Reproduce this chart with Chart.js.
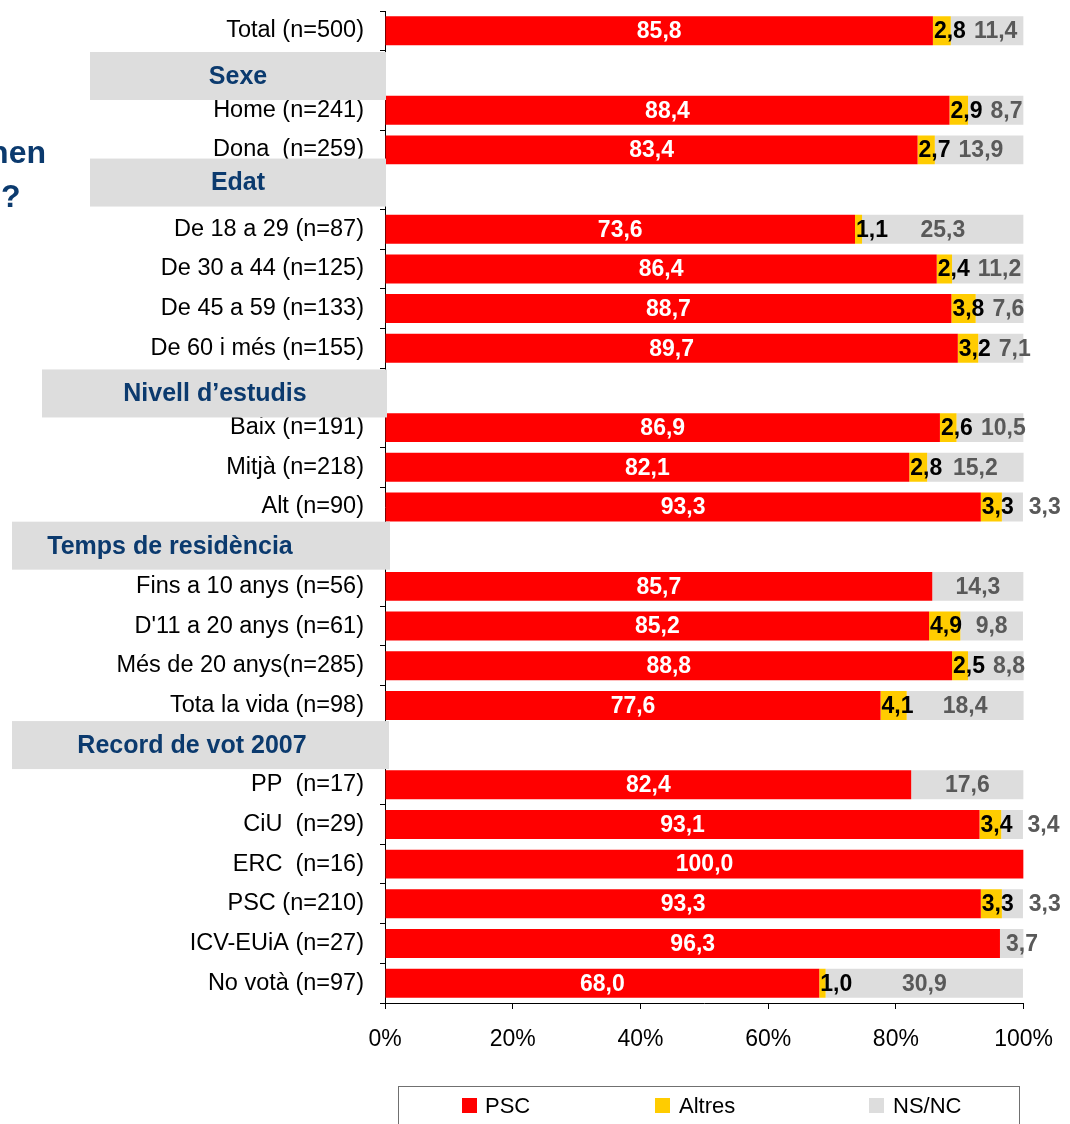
<!DOCTYPE html>
<html>
<head>
<meta charset="utf-8">
<script src="https://cdn.jsdelivr.net/npm/chart.js@4.4.1/dist/chart.umd.min.js"></script>
<style>
  html, body { margin: 0; padding: 0; background: #fff; }
  #wrap { position: relative; width: 1070px; height: 1124px; overflow: hidden; }
  canvas { display: block; }
</style>
</head>
<body>
<div id="wrap"><canvas id="c" width="1070" height="1124"></canvas></div>
<script>
// ---- DATA ----
const categories = [
  'Total (n=500)', '',
  'Home (n=241)', 'Dona  (n=259)', '',
  'De 18 a 29 (n=87)', 'De 30 a 44 (n=125)', 'De 45 a 59 (n=133)', 'De 60 i més (n=155)', '',
  'Baix (n=191)', 'Mitjà (n=218)', 'Alt (n=90)', '',
  'Fins a 10 anys (n=56)', "D'11 a 20 anys (n=61)", 'Més de 20 anys(n=285)', 'Tota la vida (n=98)', '',
  'PP  (n=17)', 'CiU  (n=29)', 'ERC  (n=16)', 'PSC (n=210)', 'ICV-EUiA (n=27)', 'No votà (n=97)'
];
const groupHeaders = ['Sexe', 'Edat', 'Nivell d’estudis', 'Temps de residència', 'Record de vot 2007'];
const seriesNames = ['PSC', 'Altres', 'NS/NC'];
const psc    = [85.8, null, 88.4, 83.4, null, 73.6, 86.4, 88.7, 89.7, null, 86.9, 82.1, 93.3, null, 85.7, 85.2, 88.8, 77.6, null, 82.4, 93.1, 100.0, 93.3, 96.3, 68.0];
const altres = [2.8, null, 2.9, 2.7, null, 1.1, 2.4, 3.8, 3.2, null, 2.6, 2.8, 3.3, null, null, 4.9, 2.5, 4.1, null, null, 3.4, null, 3.3, null, 1.0];
const nsnc   = [11.4, null, 8.7, 13.9, null, 25.3, 11.2, 7.6, 7.1, null, 10.5, 15.2, 3.3, null, 14.3, 9.8, 8.8, 18.4, null, 17.6, 3.4, null, 3.3, 3.7, 30.9];
const xTicks = [0, 20, 40, 60, 80, 100];

// ---- STYLE ----
const FONT = '"Liberation Sans", Arial, sans-serif';
const colors = ['#FF0000', '#FFCC00', '#DDDDDD'];
const labelColors = ['#FFFFFF', '#000000', '#595959'];
const headerBlue = '#0B3A6E';
const headerBoxes = [ // x0, x1, dy (vs slot centre), text centre x
  { x0: 90, x1: 386, dy: 5.5, tx: 238 },
  { x0: 90, x1: 386, dy: -7, tx: 238 },
  { x0: 42, x1: 387, dy: 5.5, tx: 215 },
  { x0: 12, x1: 390, dy: -1, tx: 170 },
  { x0: 12, x1: 389, dy: 0, tx: 192 }
];

const fmt = v => v.toFixed(1).replace('.', ',');

const labelsPlugin = {
  id: 'barLabels',
  afterDatasetsDraw(chart) {
    const ctx = chart.ctx;
    ctx.save();
    ctx.font = 'bold 23px ' + FONT;
    ctx.textBaseline = 'middle';
    ctx.textAlign = 'left';
    const n = categories.length;
    const metas = [0, 1, 2].map(i => chart.getDatasetMeta(i));
    for (let j = 0; j < n; j++) {
      let altresRight = null;
      for (let d = 0; d < 3; d++) {
        const v = chart.data.datasets[d].data[j];
        if (v === null || v === undefined) continue;
        const el = metas[d].data[j];
        const p = el.getProps(['x', 'y', 'base'], true);
        const x0 = Math.min(p.x, p.base), x1 = Math.min(Math.max(p.x, p.base), chart.chartArea.right);
        const segW = x1 - x0;
        const txt = fmt(v);
        const w = ctx.measureText(txt).width;
        const c = (x0 + x1) / 2;
        let left;
        if (d === 0) {
          left = c - w / 2;
        } else if (d === 1) {
          left = Math.max(x0 + 1, c - w / 2);
          altresRight = left + w;
        } else {
          left = c - w / 2;
          if (w > segW) {
            left = altresRight !== null ? altresRight + 15 : x0 + 6;
          } else if (altresRight !== null) {
            left = Math.max(left, altresRight + 8);
          }
        }
        ctx.fillStyle = labelColors[d];
        ctx.fillText(txt, left, p.y + 1);
      }
    }
    ctx.restore();
  },
  afterDraw(chart) {
    const ctx = chart.ctx;
    const ys = chart.scales.y;
    ctx.save();
    // header boxes
    let h = 0;
    categories.forEach((c, i) => {
      if (c !== '') return;
      const box = headerBoxes[h];
      const yc = ys.getPixelForValue(i) + box.dy;
      ctx.fillStyle = '#DDDDDD';
      ctx.fillRect(box.x0, yc - 24, box.x1 - box.x0, 48);
      ctx.fillStyle = headerBlue;
      ctx.font = 'bold 25px ' + FONT;
      ctx.textAlign = 'center';
      ctx.textBaseline = 'middle';
      ctx.fillText(groupHeaders[h], box.tx, yc + 1);
      h++;
    });
    // partially visible title text at left
    ctx.fillStyle = headerBlue;
    ctx.font = 'bold 32px ' + FONT;
    ctx.textBaseline = 'alphabetic';
    ctx.textAlign = 'right';
    ctx.fillText('hen', 46, 163);
    ctx.textAlign = 'left';
    ctx.fillText('?', 1, 207);
    // legend
    ctx.strokeStyle = '#707070';
    ctx.lineWidth = 1;
    ctx.strokeRect(398.5, 1086.5, 621, 60);
    const items = [{ sx: 462, tx: 485 }, { sx: 655, tx: 679 }, { sx: 869, tx: 893 }];
    ctx.font = '22px ' + FONT;
    ctx.textBaseline = 'middle';
    ctx.textAlign = 'left';
    items.forEach((it, i) => {
      ctx.fillStyle = colors[i];
      ctx.fillRect(it.sx, 1098, 15, 15);
      ctx.fillStyle = '#000';
      ctx.fillText(seriesNames[i], it.tx, 1107);
    });
    ctx.restore();
  }
};

new Chart(document.getElementById('c'), {
  type: 'bar',
  data: {
    labels: categories,
    datasets: [psc, altres, nsnc].map((arr, i) => ({
      label: seriesNames[i],
      data: arr,
      backgroundColor: colors[i],
      borderWidth: 0,
      categoryPercentage: 1,
      barPercentage: 0.73
    }))
  },
  options: {
    indexAxis: 'y',
    responsive: false,
    animation: false,
    layout: { padding: { top: 11, right: 46, left: 0, bottom: 0 } },
    plugins: { legend: { display: false }, tooltip: { enabled: false } },
    scales: {
      x: {
        stacked: true,
        min: 0, max: 100,
        afterBuildTicks: s => { s.ticks = xTicks.map(v => ({ value: v })); },
        afterFit: s => { s.height = 121; },
        grid: { drawOnChartArea: false, tickLength: 6, color: '#000' },
        border: { color: '#000', width: 1 },
        ticks: { color: '#000', font: { family: FONT, size: 23 }, padding: 17, callback: v => v + '%' }
      },
      y: {
        stacked: true,
        afterFit: s => { s.width = 385; s.paddingTop = 0; s.paddingBottom = 0; },
        grid: { drawOnChartArea: false, tickLength: 5, color: '#000', offset: true },
        border: { color: '#000', width: 1 },
        ticks: { color: '#000', font: { family: FONT, size: 23.5 }, padding: 16, autoSkip: false }
      }
    }
  },
  plugins: [labelsPlugin]
});
</script>
</body>
</html>
